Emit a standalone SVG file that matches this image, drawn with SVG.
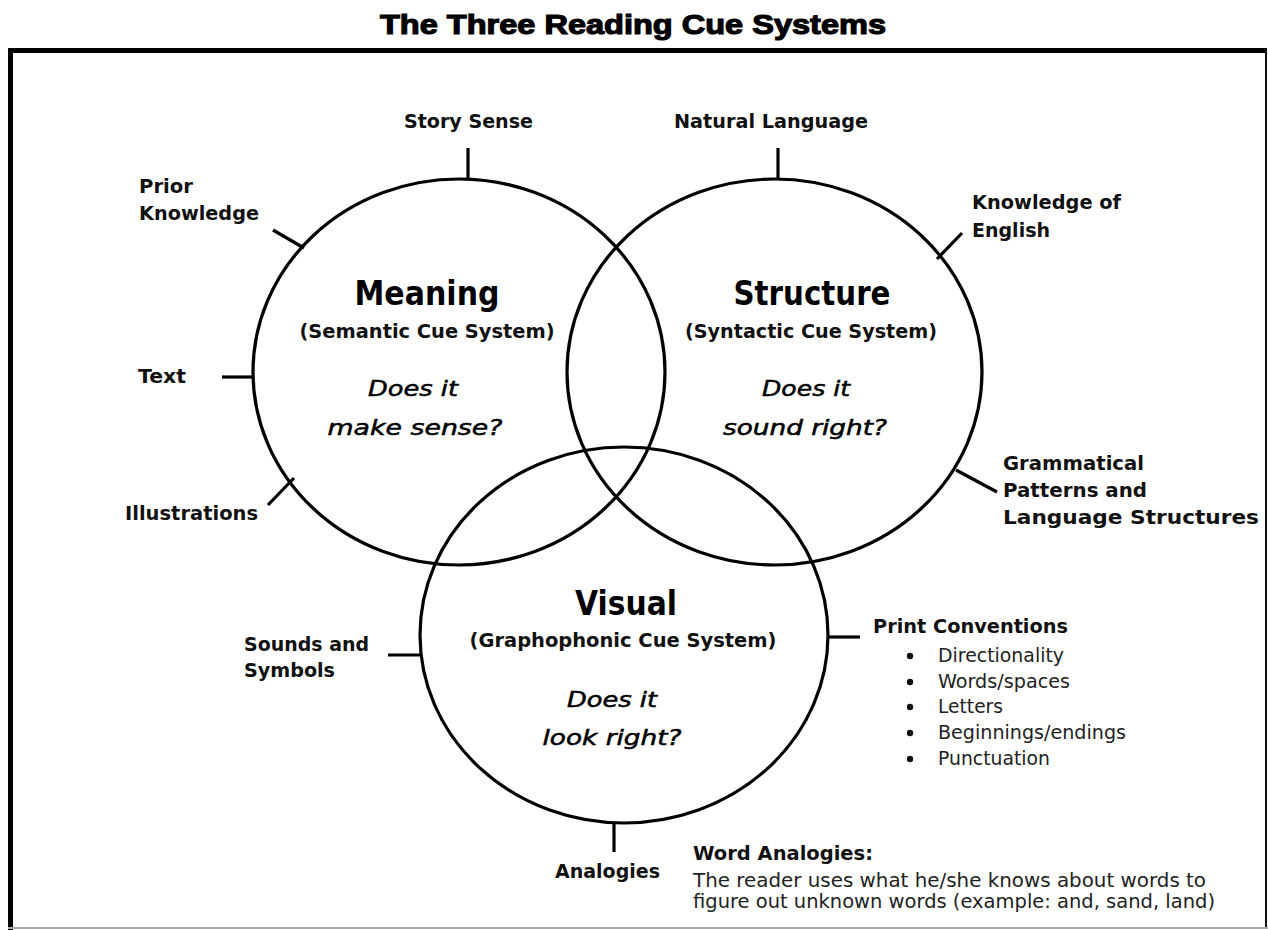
<svg xmlns="http://www.w3.org/2000/svg" width="1268" height="930" viewBox="0 0 1268 930">
<style>
.circ{fill:none;stroke:#000;stroke-width:3.2}
.tick{stroke:#000;stroke-width:3.2;fill:none}
.lbl{font-family:Tahoma,"DejaVu Sans","Noto Sans",sans-serif;font-weight:bold;font-size:19px;fill:#111}
.reg{font-family:Tahoma,"DejaVu Sans","Noto Sans",sans-serif;font-size:19px;fill:#222}
.big{font-family:Tahoma,"DejaVu Sans","Noto Sans",sans-serif;font-weight:bold;font-size:33px;fill:#000;text-anchor:middle}
.sub{font-family:Tahoma,"DejaVu Sans","Noto Sans",sans-serif;font-weight:bold;font-size:19px;fill:#111;text-anchor:middle}
.q{font-family:"Comic Sans MS","DejaVu Sans",sans-serif;font-style:italic;font-size:21px;fill:#000;stroke:#000;stroke-width:0.5;text-anchor:middle}
.title{font-family:"Liberation Sans",Arial,sans-serif;font-weight:bold;font-size:28px;fill:#000;stroke:#000;stroke-width:1.2;text-anchor:middle}
</style>
<rect width="1268" height="930" fill="#fff"/>
<g id="title"><text class="title" x="633" y="34" textLength="506" lengthAdjust="spacingAndGlyphs">The Three Reading Cue Systems</text></g>
<g id="frame">
<line x1="8" y1="50.5" x2="1267" y2="50.5" stroke="#000" stroke-width="5"/>
<line x1="10.5" y1="48" x2="10.5" y2="930" stroke="#000" stroke-width="5"/>
<line x1="1266" y1="50" x2="1266" y2="928" stroke="#111" stroke-width="2"/>
<line x1="8" y1="928" x2="1268" y2="928" stroke="#aaa" stroke-width="2"/>
</g>
<g id="connectors">
<line class="tick" x1="222" y1="377" x2="254" y2="377"/>
<line class="tick" x1="468" y1="148" x2="468" y2="180"/>
<line class="tick" x1="778" y1="148" x2="778" y2="180"/>
<line class="tick" x1="273" y1="230" x2="304" y2="248"/>
<line class="tick" x1="268" y1="505" x2="294" y2="478"/>
<line class="tick" x1="962" y1="233" x2="937" y2="259"/>
<line class="tick" x1="956" y1="470" x2="997" y2="492"/>
<line class="tick" x1="388" y1="655" x2="421" y2="655"/>
<line class="tick" x1="828" y1="637" x2="860" y2="637"/>
<line class="tick" x1="614" y1="822" x2="614" y2="852"/>
</g>
<g id="meaning">
<ellipse class="circ" cx="459" cy="372" rx="206" ry="193"/>
<text class="big" x="427" y="305" textLength="145" lengthAdjust="spacingAndGlyphs">Meaning</text>
<text class="sub" x="427" y="338" textLength="255" lengthAdjust="spacingAndGlyphs">(Semantic Cue System)</text>
<text class="q" x="413" y="396" textLength="90" lengthAdjust="spacingAndGlyphs">Does it</text>
<text class="q" x="415" y="435" textLength="175" lengthAdjust="spacingAndGlyphs">make sense?</text>
</g>
<g id="structure">
<ellipse class="circ" cx="774.5" cy="372" rx="207.5" ry="193"/>
<text class="big" x="812" y="305" textLength="157" lengthAdjust="spacingAndGlyphs">Structure</text>
<text class="sub" x="811" y="338" textLength="252" lengthAdjust="spacingAndGlyphs">(Syntactic Cue System)</text>
<text class="q" x="806" y="396" textLength="88" lengthAdjust="spacingAndGlyphs">Does it</text>
<text class="q" x="805" y="435" textLength="164" lengthAdjust="spacingAndGlyphs">sound right?</text>
</g>
<g id="visual">
<ellipse class="circ" cx="624" cy="635" rx="204" ry="188"/>
<text class="big" x="626" y="615" textLength="102" lengthAdjust="spacingAndGlyphs">Visual</text>
<text class="sub" x="623" y="647" textLength="307" lengthAdjust="spacingAndGlyphs">(Graphophonic Cue System)</text>
<text class="q" x="612" y="707" textLength="90" lengthAdjust="spacingAndGlyphs">Does it</text>
<text class="q" x="612" y="745" textLength="139" lengthAdjust="spacingAndGlyphs">look right?</text>
</g>
<g id="story-sense"><text class="lbl" x="404" y="128" textLength="129" lengthAdjust="spacingAndGlyphs">Story Sense</text></g>
<g id="natural-language"><text class="lbl" x="674" y="128" textLength="194" lengthAdjust="spacingAndGlyphs">Natural Language</text></g>
<g id="prior-knowledge">
<text class="lbl" x="139" y="193" textLength="54" lengthAdjust="spacingAndGlyphs">Prior</text>
<text class="lbl" x="139" y="220" textLength="120" lengthAdjust="spacingAndGlyphs">Knowledge</text>
</g>
<g id="knowledge-of-english">
<text class="lbl" x="972" y="209" textLength="149" lengthAdjust="spacingAndGlyphs">Knowledge of</text>
<text class="lbl" x="972" y="237" textLength="78" lengthAdjust="spacingAndGlyphs">English</text>
</g>
<g id="text-label"><text class="lbl" x="138" y="383" textLength="48" lengthAdjust="spacingAndGlyphs">Text</text></g>
<g id="illustrations"><text class="lbl" x="125" y="520" textLength="133" lengthAdjust="spacingAndGlyphs">Illustrations</text></g>
<g id="grammatical">
<text class="lbl" x="1003" y="470" textLength="141" lengthAdjust="spacingAndGlyphs">Grammatical</text>
<text class="lbl" x="1003" y="497" textLength="144" lengthAdjust="spacingAndGlyphs">Patterns and</text>
<text class="lbl" x="1003" y="524" textLength="256" lengthAdjust="spacingAndGlyphs">Language Structures</text>
</g>
<g id="sounds-symbols">
<text class="lbl" x="244" y="651" textLength="125" lengthAdjust="spacingAndGlyphs">Sounds and</text>
<text class="lbl" x="244" y="677" textLength="91" lengthAdjust="spacingAndGlyphs">Symbols</text>
</g>
<g id="print-conventions">
<text class="lbl" x="873" y="633" textLength="195" lengthAdjust="spacingAndGlyphs">Print Conventions</text>
<g fill="#111"><circle cx="910" cy="656" r="3.2"/><circle cx="910" cy="682" r="3.2"/><circle cx="910" cy="707" r="3.2"/><circle cx="910" cy="733" r="3.2"/><circle cx="910" cy="759" r="3.2"/></g>
<text class="reg" x="938" y="662" textLength="126" lengthAdjust="spacingAndGlyphs">Directionality</text>
<text class="reg" x="938" y="688" textLength="132" lengthAdjust="spacingAndGlyphs">Words/spaces</text>
<text class="reg" x="938" y="713" textLength="65" lengthAdjust="spacingAndGlyphs">Letters</text>
<text class="reg" x="938" y="739" textLength="188" lengthAdjust="spacingAndGlyphs">Beginnings/endings</text>
<text class="reg" x="938" y="765" textLength="112" lengthAdjust="spacingAndGlyphs">Punctuation</text>
</g>
<g id="analogies"><text class="lbl" x="555" y="878" textLength="105" lengthAdjust="spacingAndGlyphs">Analogies</text></g>
<g id="word-analogies">
<text class="lbl" x="693" y="860" textLength="180" lengthAdjust="spacingAndGlyphs">Word Analogies:</text>
<text class="reg" x="693" y="887" textLength="513" lengthAdjust="spacingAndGlyphs">The reader uses what he/she knows about words to</text>
<text class="reg" x="693" y="908" textLength="522" lengthAdjust="spacingAndGlyphs">figure out unknown words (example: and, sand, land)</text>
</g>
</svg>
